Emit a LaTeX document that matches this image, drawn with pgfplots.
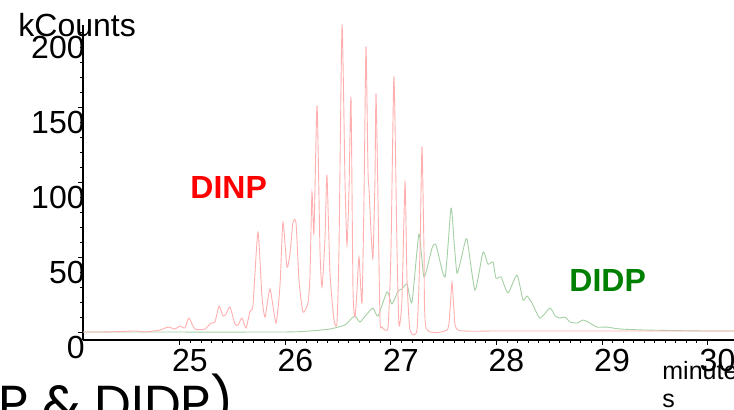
\documentclass[border=0pt]{standalone}
\usepackage{pgfplots}
\pgfplotsset{compat=1.18}
\usepackage{fontspec}
\setmainfont{Liberation Sans}
\newfontfamily\titlefont{Poppins}
\definecolor{redtrace}{RGB}{255,175,175}
\definecolor{greentrace}{RGB}{165,208,165}
\definecolor{didp}{RGB}{0,128,0}
\begin{document}
\begin{tikzpicture}
\useasboundingbox (0,0) rectangle (367pt,205pt);
\clip (0,0) rectangle (367pt,205pt);
\begin{axis}[
  at={(41.5pt,35pt)}, anchor=south west,
  scale only axis, width=325.5pt, height=157.5pt,
  xmin=24.081, xmax=30.251, ymin=-5.33, ymax=205,
  axis lines=left,
  axis line style={-, black, line width=0.6pt},
  tick align=outside,
  tick style={black, line width=0.5pt},
  major tick length=2.5pt, minor tick length=1.5pt,
  xtick={25,26,27,28,29,30}, minor x tick num=9,
  ytick={0,50,100,150,200}, minor y tick num=4,
  /pgf/number format/assume math mode=true,
  ticklabel style={font=\fontsize{16}{19}\selectfont, inner sep=0pt},
  xticklabel style={anchor=north, xshift=5pt, yshift=-2pt},
  yticklabel style={anchor=east, xshift=3.5pt, yshift=-7.5pt},
]
\addplot[greentrace, line width=0.45pt, smooth, tension=0.35] coordinates {
(24.081,0)(25.948,0)(26.232,0.7)(26.422,2)(26.564,4.7)(26.611,8)(26.659,10.7)(26.706,6.7)(26.763,11.3)(26.829,16)(26.877,10.7)(26.962,26.7)(27.009,18.7)(27.066,27.3)(27.104,28.7)(27.152,32)(27.199,20)(27.265,65.3)(27.313,36.7)(27.389,56)(27.427,58)(27.512,36.7)(27.569,82.7)(27.597,61.3)(27.626,39.3)(27.673,51.3)(27.720,62)(27.796,28)(27.872,53.3)(27.919,45.3)(27.967,46.7)(27.995,36)(28.043,36.7)(28.109,26)(28.194,38)(28.251,21.3)(28.289,24)(28.336,19.3)(28.412,9.3)(28.507,16)(28.555,10.7)(28.602,9.3)(28.649,10)(28.697,6.7)(28.763,6)(28.820,8)(28.867,6.7)(28.953,3.3)(29.047,3.3)(29.171,2)(29.427,1.3)(29.929,0.7)(30.251,0.7)
};
\addplot[redtrace, line width=0.45pt, smooth, tension=0.35] coordinates {
(24.081,0)(24.242,0)(24.431,0.3)(24.583,0.7)(24.668,0)(24.810,1.3)(24.886,3.3)(24.953,2)(25.000,4)(25.047,2.7)(25.085,9.3)(25.142,2)(25.237,2)(25.294,6)(25.332,6.7)(25.370,17.3)(25.408,10.7)(25.436,12)(25.474,16.7)(25.521,5.3)(25.550,4.7)(25.588,9.3)(25.626,2.7)(25.664,14)(25.692,18)(25.739,66.7)(25.777,24)(25.806,10)(25.853,28.7)(25.910,6)(25.948,31)(25.976,73.3)(26.014,43.3)(26.043,52.7)(26.071,73.3)(26.100,72.7)(26.128,34.7)(26.166,13.3)(26.213,19.3)(26.232,37)(26.251,93.3)(26.270,66)(26.299,151.3)(26.327,54.7)(26.346,30)(26.374,61.3)(26.393,104.7)(26.422,39.3)(26.460,8)(26.488,6)(26.507,54.7)(26.536,204.7)(26.564,101.3)(26.583,58)(26.602,94.7)(26.621,156.7)(26.640,28)(26.659,10)(26.678,28)(26.697,50)(26.725,19.3)(26.744,88)(26.763,190.7)(26.782,108)(26.791,96.7)(26.810,68)(26.829,49.3)(26.848,101.3)(26.858,159.3)(26.877,88)(26.896,8)(26.915,3.3)(26.972,3.3)(27.000,54.7)(27.028,170.7)(27.057,54.7)(27.076,4.7)(27.104,21.3)(27.133,100)(27.152,34.7)(27.180,1.3)(27.246,1.3)(27.275,54.7)(27.294,124)(27.313,54.7)(27.332,2.7)(27.531,1.3)(27.559,14.7)(27.578,33.3)(27.597,14.7)(27.635,1.3)(28.033,0.7)(28.981,0.7)(30.251,0.7)
};
\end{axis}
\node[anchor=base west, inner sep=0pt, font=\fontsize{16}{19}\selectfont] at (9pt,186.5pt) {kCounts};
\node[anchor=base west, inner sep=0pt, font=\fontsize{16}{19}\selectfont\bfseries, text=red] at (95pt,105.5pt) {DINP};
\node[anchor=base west, inner sep=0pt, font=\fontsize{16}{19}\selectfont\bfseries, text=didp] at (284.5pt,59pt) {DIDP};
\node[anchor=base west, inner sep=0pt, font=\fontsize{12.5}{15}\selectfont] at (331pt,15pt) {minute};
\node[anchor=base west, inner sep=0pt, font=\fontsize{12.5}{15}\selectfont] at (331pt,1pt) {s};
\node[anchor=base east, inner sep=0pt, font=\titlefont\fontsize{26}{30}\selectfont] at (117.5pt,-6.5pt) {(DINP \& DIDP)};
\end{tikzpicture}
\end{document}
